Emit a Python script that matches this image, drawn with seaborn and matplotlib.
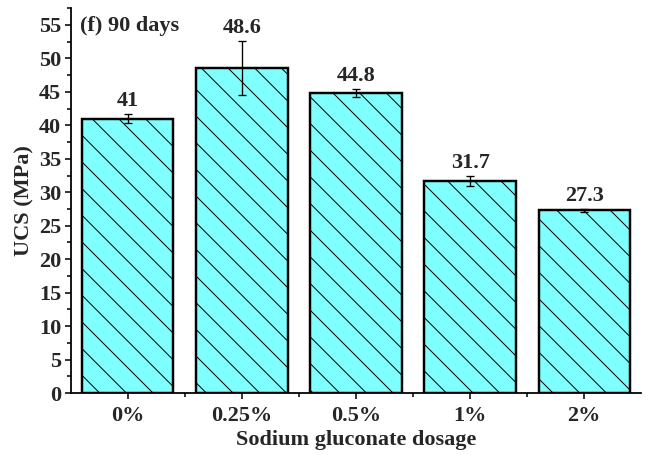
import matplotlib
matplotlib.use("Agg")
import matplotlib.pyplot as plt
import pandas as pd
import seaborn as sns
from matplotlib.ticker import MultipleLocator, FixedLocator

# Dados
dosagens = ["0%", "0.25%", "0.5%", "1%", "2%"]
ucs = [41.0, 48.6, 44.8, 31.7, 27.3]
erros = [0.7, 4.0, 0.6, 0.7, 0.2]
rotulos = ["41", "48.6", "44.8", "31.7", "27.3"]

DPI = 160
sns.set_theme(style="ticks")
plt.rcParams["font.family"] = ["Liberation Serif", "DejaVu Serif"]
plt.rcParams["font.weight"] = "bold"
plt.rcParams["hatch.linewidth"] = 0.45
plt.rcParams["hatch.color"] = "black"

df = pd.DataFrame({"dosagem": dosagens, "ucs": ucs})

fig = plt.figure(figsize=(649 / DPI, 455 / DPI), dpi=DPI)
ax = fig.add_axes([0.109, 0.136, 0.879, 0.846])

sns.barplot(data=df, x="dosagem", y="ucs", color="#80FFFF", saturation=1,
            width=0.8, edgecolor="black", linewidth=1.1, errorbar=None, ax=ax)
for p in ax.patches:
    p.set_hatch("\\\\")

x = range(len(dosagens))
ax.errorbar(x, ucs, yerr=erros, fmt="none", ecolor="black",
            elinewidth=0.6, capsize=2, capthick=0.6)

for xi, v, e, lab in zip(x, ucs, erros, rotulos):
    ax.annotate(lab, xy=(xi, v + e), xytext=(0, 1.5), textcoords="offset points",
                ha="center", va="bottom", fontsize=10, fontweight="bold")

ax.text(0.017, 0.955, "(f) 90 days", transform=ax.transAxes, ha="left", va="center",
        fontsize=10, fontweight="bold")

ax.set_xlim(-0.5, 4.5)
ax.set_ylim(0, 57.5)
ax.yaxis.set_major_locator(MultipleLocator(5))
ax.yaxis.set_minor_locator(MultipleLocator(2.5))
ax.xaxis.set_minor_locator(FixedLocator([0.5, 1.5, 2.5, 3.5]))

ax.set_xlabel("Sodium gluconate dosage", fontsize=10, fontweight="bold", labelpad=2)
ax.set_ylabel("UCS (MPa)", fontsize=10, fontweight="bold", labelpad=2)
ax.tick_params(axis="both", which="major", direction="out", length=2.8, width=0.7,
               labelsize=10, pad=1.5, color="black")
ax.tick_params(axis="x", which="major", pad=3)
ax.tick_params(axis="both", which="minor", direction="out", length=1.6, width=0.7,
               color="black")
for lab in ax.get_xticklabels() + ax.get_yticklabels():
    lab.set_fontweight("bold")

sns.despine(ax=ax)
for s in ["left", "bottom"]:
    ax.spines[s].set_linewidth(0.8)
    ax.spines[s].set_color("black")

fig.savefig("out.png", dpi=DPI)
plt.close(fig)
